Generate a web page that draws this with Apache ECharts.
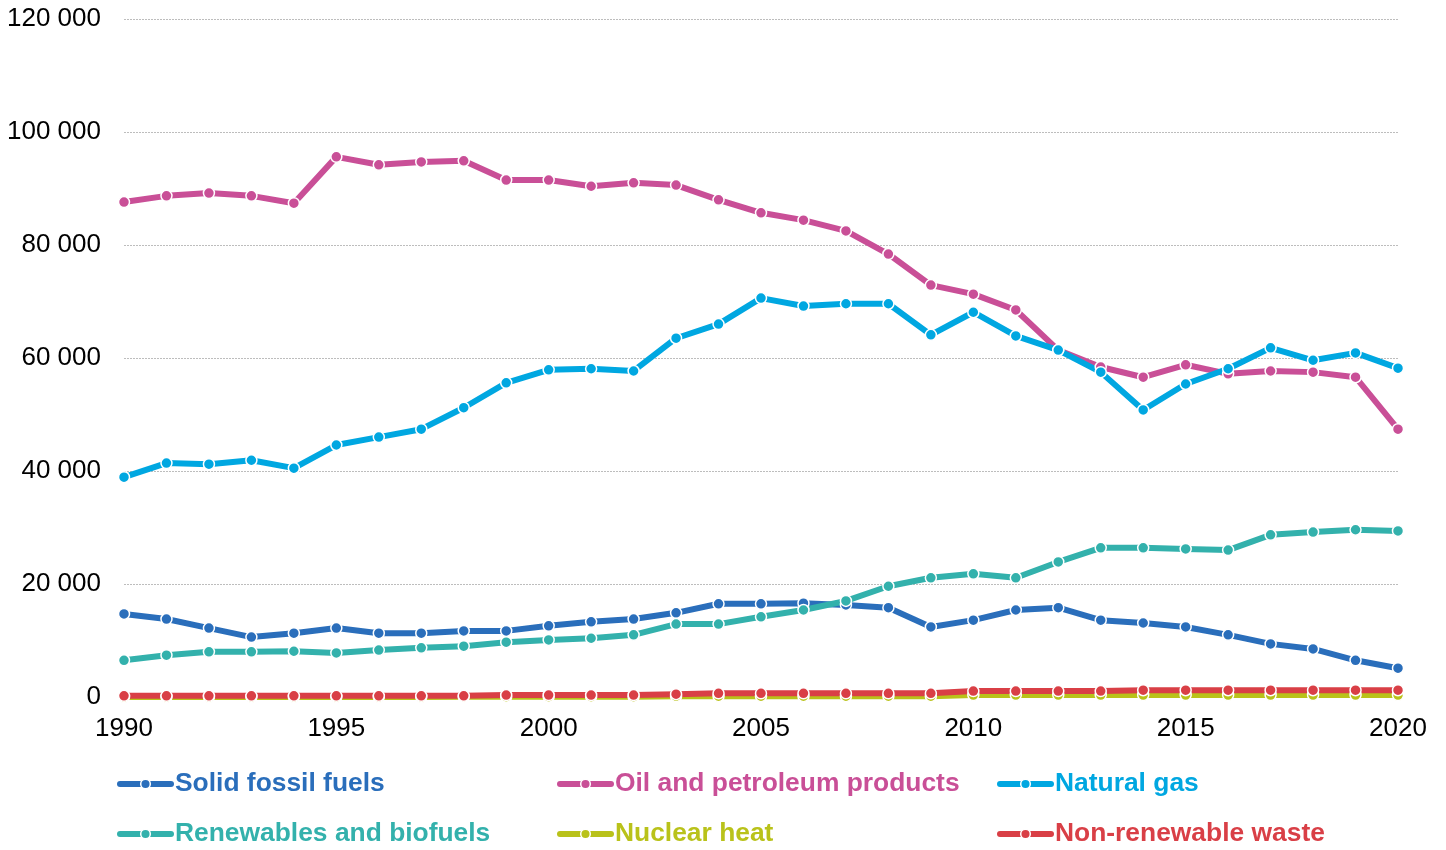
<!DOCTYPE html>
<html>
<head>
<meta charset="utf-8">
<script src="https://cdn.jsdelivr.net/npm/echarts@6/dist/echarts.min.js"></script>
<style>
  html, body { margin: 0; padding: 0; background: #fff; }
  #main { width: 1446px; height: 850px; }
</style>
</head>
<body>
<div id="main"></div>
<script>
const years = [];
for (let y = 1990; y <= 2020; y++) years.push(String(y));

const yTicks = [0, 20000, 40000, 60000, 80000, 100000, 120000];

const solidFossil = [14700, 13800, 12200, 10600, 11300, 12200, 11300, 11300, 11700, 11700,
  12600, 13300, 13800, 14900, 16500, 16500, 16600, 16300, 15800, 12400,
  13600, 15400, 15800, 13600, 13100, 12400, 11000, 9400, 8500, 6500, 5100];
const oilPetroleum = [87600, 88700, 89200, 88700, 87400, 95600, 94200, 94700, 94900, 91500,
  91500, 90400, 91000, 90600, 88000, 85700, 84400, 82500, 78400, 72900,
  71300, 68500, 61400, 58400, 56600, 58800, 57200, 57700, 57500, 56600, 47400];
const naturalGas = [38900, 41400, 41200, 41900, 40500, 44600, 46000, 47400, 51200, 55600,
  57900, 58100, 57700, 63500, 66000, 70600, 69200, 69600, 69600, 64100,
  68100, 63900, 61400, 57500, 50800, 55400, 58100, 61800, 59600, 60900, 58200];
const renewables = [6500, 7400, 8000, 8000, 8100, 7800, 8300, 8700, 9000, 9700,
  10100, 10400, 11000, 12900, 12900, 14200, 15400, 17000, 19600, 21100,
  21800, 21100, 23900, 26400, 26400, 26200, 26000, 28700, 29200, 29600, 29400];
const nuclearHeat = [0, 0, 0, 0, 0, 0, 0, 0, 50, 50,
  50, 50, 50, 150, 150, 150, 150, 150, 150, 150,
  350, 350, 350, 350, 350, 350, 350, 350, 350, 350, 350];
const nonRenewableWaste = [200, 200, 200, 200, 200, 200, 200, 200, 200, 350,
  350, 350, 350, 500, 650, 650, 650, 650, 650, 650,
  1050, 1050, 1050, 1050, 1200, 1200, 1200, 1200, 1200, 1200, 1200];

const seriesDefs = [
  { name: 'Solid fossil fuels', data: solidFossil, color: '#2a6ebb', left: 117, top: 771 },
  { name: 'Oil and petroleum products', data: oilPetroleum, color: '#c94f97', left: 557, top: 771 },
  { name: 'Natural gas', data: naturalGas, color: '#00a7e1', left: 997, top: 771 },
  { name: 'Renewables and biofuels', data: renewables, color: '#33b1ac', left: 117, top: 821 },
  { name: 'Nuclear heat', data: nuclearHeat, color: '#b9c21a', left: 557, top: 821 },
  { name: 'Non-renewable waste', data: nonRenewableWaste, color: '#d93f46', left: 997, top: 821 }
];

function fmt(v) {
  return String(v).replace(/\B(?=(\d{3})+(?!\d))/g, ' ');
}

const chart = echarts.init(document.getElementById('main'));

const option = {
  animation: false,
  grid: { left: 124, right: 48, top: 19, bottom: 153, containLabel: false },
  legend: seriesDefs.map(s => ({
    data: [{ name: s.name, textStyle: { color: s.color } }],
    left: s.left,
    top: s.top,
    itemWidth: 51,
    itemHeight: 12,
    itemGap: 0,
    padding: 0,
    lineStyle: { width: 6, cap: 'round' },
    itemStyle: { borderColor: '#fff', borderWidth: 1.5 },
    textStyle: {
      fontFamily: 'Liberation Sans, Arial, sans-serif',
      fontSize: 26.4,
      fontWeight: 'bold',
      padding: [0, 0, 0, -1]
    }
  })),
  xAxis: {
    type: 'category',
    data: years,
    boundaryGap: false,
    axisLine: { show: false },
    axisTick: { show: true, interval: 0, length: 3, lineStyle: { color: '#000', width: 1 } },
    axisLabel: {
      interval: 4,
      color: '#000',
      fontFamily: 'Liberation Sans, Arial, sans-serif',
      fontSize: 26,
      margin: 19
    },
    splitLine: { show: false }
  },
  yAxis: {
    type: 'value',
    min: yTicks[0],
    max: yTicks[yTicks.length - 1],
    interval: 20000,
    axisLine: { show: false },
    axisTick: { show: false },
    axisLabel: {
      color: '#000',
      fontFamily: 'Liberation Sans, Arial, sans-serif',
      fontSize: 26,
      margin: 23,
      formatter: v => fmt(v)
    },
    splitLine: { show: true, lineStyle: { color: '#bdbdbd', type: [2, 1], width: 1 } }
  },
  series: seriesDefs.map(s => ({
    name: s.name,
    type: 'line',
    data: s.data,
    color: s.color,
    symbol: 'circle',
    symbolSize: 11,
    showSymbol: true,
    lineStyle: { width: 6, color: s.color },
    itemStyle: { color: s.color, borderColor: '#fff', borderWidth: 1.5 }
  }))
};

chart.setOption(option);
</script>
</body>
</html>
